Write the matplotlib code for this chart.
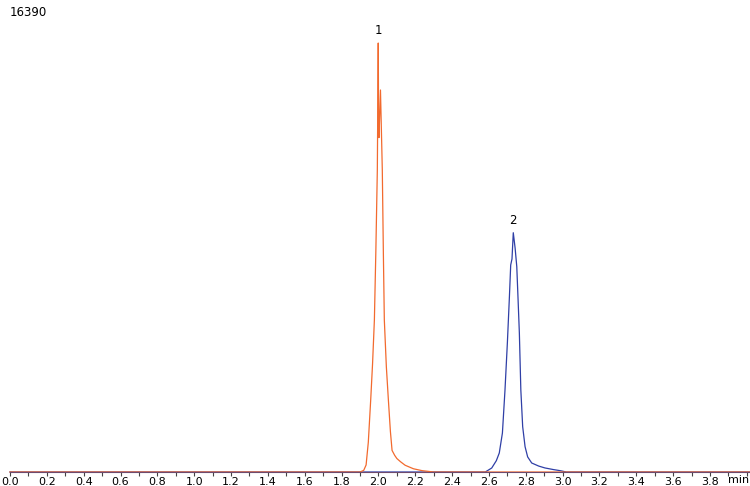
import matplotlib.pyplot as plt
from matplotlib.ticker import MultipleLocator, FormatStrFormatter

# peak 1 (orange trace)
t1 = [0.0, 1.90, 1.92, 1.933, 1.945, 1.958, 1.968, 1.978, 1.986, 1.994, 1.999,
      2.001, 2.003, 2.011, 2.015, 2.021, 2.027, 2.032, 2.043, 2.054, 2.065, 2.074,
      2.088, 2.10, 2.12, 2.145, 2.19, 2.237, 2.30, 4.02]
i1 = [0, 0, 60, 260, 1100, 2670, 4000, 5636, 8200, 11198, 15907,
      12793, 12400, 14165, 13000, 11198, 8000, 5636, 3900, 2670, 1500, 800,
      620, 500, 380, 250, 120, 50, 0, 0]

# peak 2 (blue trace)
t2 = [0.0, 2.58, 2.615, 2.64, 2.656, 2.673, 2.687, 2.70, 2.711, 2.718, 2.725, 2.732,
      2.742, 2.751, 2.758, 2.765, 2.773, 2.783, 2.796, 2.81, 2.832, 2.87, 2.904,
      2.95, 2.986, 3.02, 4.02]
i2 = [0, 0, 148, 420, 704, 1446, 3040, 4800, 6500, 7676, 7900, 8873,
      8300, 7613, 6400, 5154, 3040, 1680, 938, 560, 334, 220, 150,
      90, 50, 0, 0]

y_top = 16390
peak_labels = ["1", "2"]
peak_pos = [(1.999, 15907), (2.732, 8873)]

fig = plt.figure(figsize=(7.5, 4.86), dpi=100)
ax = fig.add_axes([10 / 750, 14 / 486, 740 / 750, 442 / 486])

ax.plot(t2, i2, color="#2f3fa6", lw=0.9, clip_on=False)
ax.plot(t1, i1, color="#f26a2e", lw=0.9, clip_on=False)

for lab, (x, y) in zip(peak_labels, peak_pos):
    ax.annotate(lab, (x, y), xytext=(0, 4), textcoords="offset points",
                ha="center", va="bottom", fontsize=8.5)

ax.set_xlim(0, 4.017)
ax.set_ylim(0, y_top)
for s in ["top", "right", "left"]:
    ax.spines[s].set_visible(False)
ax.spines["bottom"].set_color("#6e4a6e")
ax.spines["bottom"].set_linewidth(0.8)
ax.set_yticks([])
ax.xaxis.set_major_locator(MultipleLocator(0.2))
ax.xaxis.set_minor_locator(MultipleLocator(0.1))
ax.xaxis.set_major_formatter(FormatStrFormatter("%.1f"))
ax.tick_params(axis="x", which="both", direction="out", length=3, width=0.8,
               color="#444444", labelsize=8, pad=0.3)
ax.set_xticks([v / 10 for v in range(0, 39, 2)])

fig.text(10 / 750, 1 - 12 / 486, str(y_top), ha="left", va="center", fontsize=8.5)
fig.text(749 / 750, 1 - 480 / 486, "min", ha="right", va="center", fontsize=8)

fig.savefig("out.png", dpi=100)
